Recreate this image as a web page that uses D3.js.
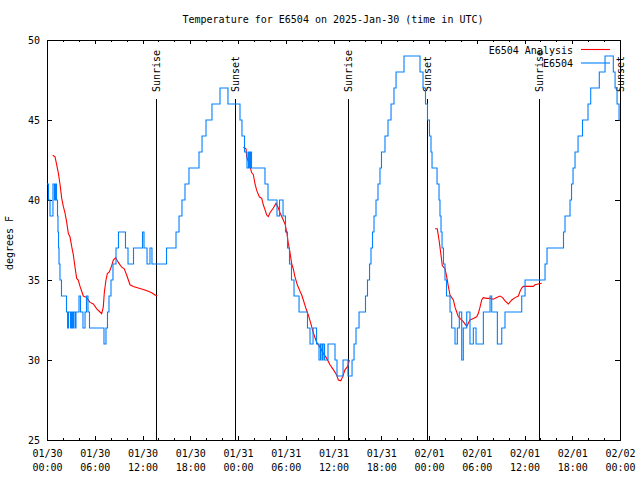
<!DOCTYPE html>
<html>
<head>
<meta charset="utf-8">
<script src="https://cdn.jsdelivr.net/npm/d3@7"></script>
<style>
  html, body { margin: 0; padding: 0; background: #fff; }
  svg text { font-family: "DejaVu Sans Mono", "Liberation Mono", monospace; font-size: 10px; fill: #000; }
</style>
</head>
<body>
<svg id="chart" width="640" height="480"></svg>
<script>
// ---- data (hours since 2025-01-30 00:00 UTC) ----
const titleText = "Temperature for E6504 on 2025-Jan-30 (time in UTC)";
const yLabel = "degrees F";
const seriesNames = ["E6504 Analysis", "E6504"];

const obsHours = [0.00,0.19,0.38,0.75,0.94,1.07,1.19,1.32,1.38,1.45,1.51,1.63,1.82,2.45,2.58,2.70,2.95,3.08,3.20,3.33,3.52,3.64,4.02,4.21,4.52,4.78,4.96,5.15,5.34,7.16,7.41,7.60,7.79,8.04,8.29,8.67,8.98,9.86,10.18,10.87,12.00,12.19,12.57,12.94,13.19,15.02,16.21,16.59,16.96,17.34,17.84,19.10,19.48,19.98,20.73,21.74,22.74,24.25,24.50,24.82,25.13,25.32,25.45,25.57,25.70,27.39,27.77,28.90,29.22,29.66,29.97,30.22,30.47,30.72,31.04,31.67,32.73,33.05,33.43,33.87,34.18,34.37,34.56,34.68,34.87,35.31,36.19,36.44,37.20,37.82,38.33,38.58,38.83,39.21,40.02,40.27,40.53,40.71,40.90,41.09,41.34,41.59,41.84,42.03,42.47,42.85,43.23,43.60,43.86,44.86,46.87,47.25,47.56,47.81,48.06,48.25,48.38,49.01,49.26,49.38,49.51,49.64,49.82,50.01,50.20,50.64,50.85,51.27,51.56,51.81,52.11,52.31,52.74,53.15,53.57,53.91,54.83,55.67,55.88,56.59,57.14,57.55,59.65,60.07,62.58,62.83,64.90,65.09,65.72,65.91,66.10,66.35,66.73,67.29,67.98,68.32,69.40,70.12,71.16,71.38,71.63,71.88,72.00];
const obsTemps = [41,40,39,41,40,41,40,39,38,37,36,35,34,33,32,33,32,33,32,33,32,33,34,33,32,33,34,33,32,31,32,33,34,35,36,37,38,37,36,37,38,37,36,37,36,37,38,39,40,41,42,43,44,45,46,47,46,45,44,43,42,43,42,43,42,41,40,39,40,39,38,37,36,35,34,33,32,31,32,31,30,31,30,31,30,31,30,29,30,29,30,31,32,33,34,35,36,37,38,39,40,41,42,43,44,45,46,47,48,49,48,47,46,45,44,43,42,41,40,39,38,37,36,35,34,33,32,31,32,33,30,32,33,31,32,31,33,34,33,31,32,33,34,35,36,37,38,39,40,41,42,43,44,45,46,47,48,49,48,47,46,45,45];

const anaHours = [0.72,1.01,1.22,1.42,1.63,1.85,2.05,2.26,2.48,2.68,2.89,3.10,3.30,3.52,3.73,3.93,4.15,4.36,4.56,4.99,5.40,5.82,6.25,6.66,6.87,7.07,7.20,7.41,7.58,7.83,8.13,8.33,8.63,8.96,9.39,9.71,10.02,10.43,10.84,11.47,12.10,12.73,13.16,13.57,13.86,
  20.00,
  24.67,25.01,25.09,25.30,25.51,25.72,25.92,26.14,26.35,26.68,26.98,27.18,27.39,27.61,27.81,28.02,28.44,28.78,29.07,29.28,29.69,29.91,30.12,30.32,30.54,30.75,30.95,31.16,31.45,31.79,32.01,32.21,32.55,32.84,33.14,33.46,33.89,34.31,34.72,35.15,35.56,35.98,36.40,36.61,36.91,37.16,37.45,37.79,37.99,
  44.00,
  48.76,49.04,49.26,49.47,49.67,50.01,50.23,50.43,50.64,50.86,51.06,51.27,51.48,51.68,51.90,52.31,52.74,52.94,53.15,53.57,53.99,54.19,54.41,54.62,54.82,55.25,55.67,56.08,56.51,56.92,57.26,57.55,57.97,58.40,58.81,59.23,59.44,59.65,59.85,61.11,61.32,61.73,62.16];
const anaTemps = [42.8,42.7,42.2,41.7,41.0,40.1,39.6,39.2,38.6,37.9,37.7,37.1,36.6,35.8,35.1,35.0,34.6,34.3,34.0,33.9,33.6,33.5,33.2,33.0,32.9,33.3,34.2,35.0,35.4,35.5,35.9,36.25,36.4,36.1,35.8,35.7,35.3,34.7,34.6,34.5,34.4,34.3,34.2,34.06,34.0,
  null,
  43.3,43.2,42.7,42.4,42.1,41.7,41.6,41.0,40.6,40.2,40.1,39.7,39.4,39.06,38.96,39.2,39.5,39.8,39.5,39.2,38.75,38.5,38.0,37.3,36.7,36.0,35.7,35.2,34.7,34.3,34.06,33.75,33.2,32.8,32.3,31.7,31.1,30.8,30.4,30.1,29.7,29.4,29.06,28.75,28.7,28.96,29.4,29.6,30.0,
  null,
  38.2,38.2,37.5,36.7,35.9,35.7,35.2,34.6,34.06,33.9,33.75,33.3,33.0,32.7,32.6,32.4,32.1,32.3,32.5,32.6,32.7,32.9,33.3,33.75,33.9,33.85,33.85,33.8,33.9,34.0,33.9,33.7,33.5,33.75,33.9,34.0,34.3,34.5,34.6,34.6,34.7,34.75,34.8];

const sunEventHours = [13.70, 23.62, 37.82, 47.75, 61.83, 71.94];
const sunEventNames = ["Sunrise", "Sunset", "Sunrise", "Sunset", "Sunrise", "Sunset"];
const yTicks = [25, 30, 35, 40, 45, 50];

// ---- drawing ----
const t0 = Date.UTC(2025, 0, 30);
const hToDate = h => new Date(t0 + h * 3600e3);
const svg = d3.select("#chart");
const L = 47, R = 620, T = 40, B = 440;
const x = d3.scaleUtc().domain([hToDate(0), hToDate(72)]).range([L, R]);
const y = d3.scaleLinear().domain([25, 50]).range([B, T]);

svg.append("text").attr("x", 333).attr("y", 23).attr("text-anchor", "middle").text(titleText);

// frame
svg.append("rect").attr("x", L).attr("y", T).attr("width", R - L).attr("height", B - T)
  .attr("fill", "none").attr("stroke", "#000").attr("shape-rendering", "crispEdges");

const major = d3.utcHour.every(6), minor = d3.utcHour.every(2);
function ticksOnly(g) { g.select(".domain").remove(); g.selectAll("line").attr("stroke", "#000").attr("shape-rendering", "crispEdges"); }

svg.append("g").attr("transform", `translate(0,${B})`)
  .call(d3.axisBottom(x).ticks(minor).tickSize(-2).tickFormat("")).call(ticksOnly);
svg.append("g").attr("transform", `translate(0,${B})`)
  .call(d3.axisBottom(x).ticks(major).tickSize(-4).tickFormat("")).call(ticksOnly);
svg.append("g").attr("transform", `translate(0,${T})`)
  .call(d3.axisTop(x).ticks(minor).tickSize(-2).tickFormat("")).call(ticksOnly);
svg.append("g").attr("transform", `translate(0,${T})`)
  .call(d3.axisTop(x).ticks(major).tickSize(-4).tickFormat("")).call(ticksOnly);

// x labels (two lines)
const fmtD = d3.utcFormat("%m/%d"), fmtT = d3.utcFormat("%H:%M");
const xl = svg.append("g").attr("transform", `translate(0,${B})`)
  .call(d3.axisBottom(x).ticks(major).tickSize(0).tickFormat(""));
xl.select(".domain").remove();
xl.selectAll(".tick").each(function(d) {
  const t = d3.select(this).select("text").text(null).attr("y", 0).attr("dy", null);
  t.append("tspan").attr("x", 0).attr("y", 17).text(fmtD(d));
  t.append("tspan").attr("x", 0).attr("y", 31).text(fmtT(d));
});
xl.selectAll("text").style("font-family", "DejaVu Sans Mono").style("font-size", "10px");

// y axes
const yl = svg.append("g").attr("transform", `translate(${L},0)`)
  .call(d3.axisLeft(y).tickValues(yTicks).tickSize(-5).tickPadding(7).tickFormat(d3.format("d")));
yl.call(ticksOnly);
yl.selectAll("text").style("font-family", "DejaVu Sans Mono").style("font-size", "10px");
svg.append("g").attr("transform", `translate(${R},0)`)
  .call(d3.axisRight(y).tickValues(yTicks).tickSize(-5).tickFormat("")).call(ticksOnly);

svg.append("text").attr("transform", "translate(13,243) rotate(-90)").attr("text-anchor", "middle").text(yLabel);

// sunrise / sunset
sunEventHours.forEach((h, i) => {
  const xx = Math.round(x(hToDate(h))) + 0.5;
  svg.append("line").attr("x1", xx).attr("x2", xx).attr("y1", 99).attr("y2", B)
    .attr("stroke", "#000");
  svg.append("text").attr("transform", `translate(${xx + 3.5},92) rotate(-90)`).text(sunEventNames[i]);
});

// data lines
const obs = obsHours.map((h, i) => ({ t: hToDate(h), v: obsTemps[i] }));
const ana = anaHours.map((h, i) => ({ t: hToDate(h), v: anaTemps[i] }));
svg.append("path").datum(ana)
  .attr("d", d3.line().defined(d => d.v != null).x(d => x(d.t)).y(d => y(d.v)))
  .attr("fill", "none").attr("stroke", "#ff0000").attr("stroke-width", 1.1);
svg.append("path").datum(obs)
  .attr("d", d3.line().curve(d3.curveStepAfter).x(d => x(d.t)).y(d => y(d.v)))
  .attr("fill", "none").attr("stroke", "#0080ff").attr("stroke-width", 1.1);

// legend
const legColors = ["#ff0000", "#0080ff"];
seriesNames.forEach((n, i) => {
  const yy = 50 + i * 13.5;
  svg.append("text").attr("x", 573).attr("y", yy + 3.5).attr("text-anchor", "end").text(n);
  svg.append("line").attr("x1", 581).attr("x2", 610).attr("y1", yy - 0.5).attr("y2", yy - 0.5)
    .attr("stroke", legColors[i]).attr("stroke-width", 1.1);
});
</script>
</body>
</html>
